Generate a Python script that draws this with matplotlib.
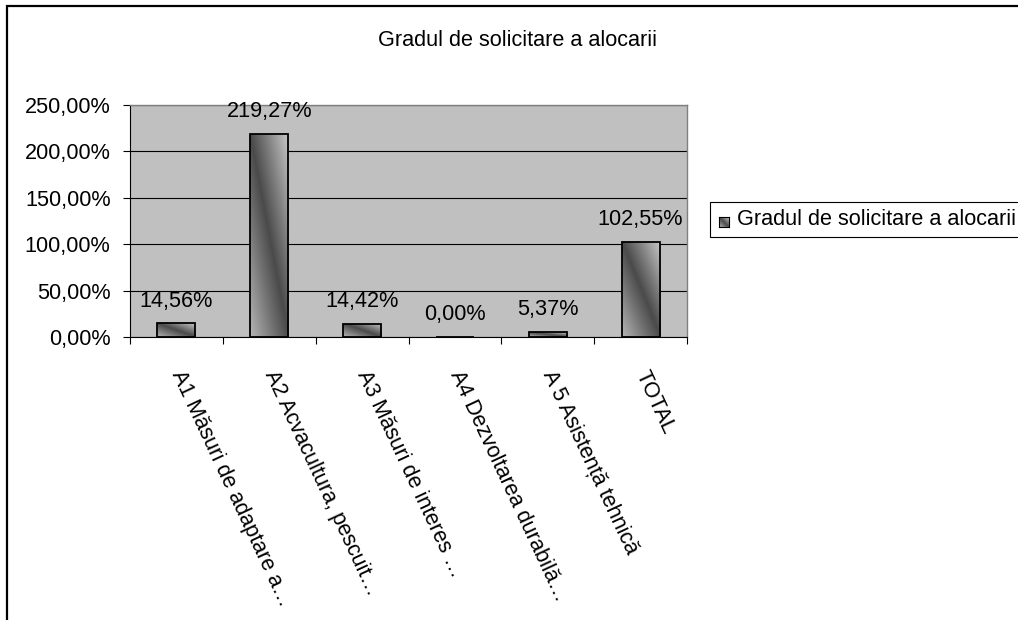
import numpy as np
import matplotlib
matplotlib.use("Agg")
import matplotlib.pyplot as plt
from matplotlib.patches import Rectangle
from matplotlib.colors import LinearSegmentedColormap
from matplotlib.ticker import FuncFormatter, MultipleLocator

categories = [
    "A1 Măsuri de adaptare a…",
    "A2 Acvacultura, pescuit…",
    "A3 Măsuri de interes …",
    "A4 Dezvoltarea durabilă…",
    "A 5 Asistență tehnică",
    "TOTAL",
]
values = [14.56, 219.27, 14.42, 0.00, 5.37, 102.55]
series_name = "Gradul de solicitare a alocarii"
chart_title = "Gradul de solicitare a alocarii"

W, H, DPI = 1018, 620, 100
FS = 15.6
plt.rcParams["font.family"] = ["Liberation Sans", "DejaVu Sans"]

# dark band along the diagonal, lighter toward the two opposite corners
bar_cmap = LinearSegmentedColormap.from_list(
    "bar", [(0.0, "#b4b4b4"), (0.5, "#4a4a4a"), (1.0, "#c8c8c8")])


def diag_gradient(n=64):
    u = np.linspace(0, 1, n)[None, :]
    v = np.linspace(0, 1, n)[:, None]
    return np.clip((u - v) * 0.5 + 0.5, 0, 1)


def pct(v, _pos=None):
    return f"{v:.2f}".replace(".", ",") + "%"


fig = plt.figure(figsize=(W / DPI, H / DPI), dpi=DPI)
fig.patch.set_facecolor("white")

# outer chart border
fig.add_artist(Rectangle((7 / W, -0.1), 1.2, 1 - 6 / H + 0.1, transform=fig.transFigure,
                         fill=False, edgecolor="black", linewidth=1.6, zorder=0))

ax = fig.add_axes([130 / W, 1 - 337 / H, 557 / W, 232 / H])
ax.set_facecolor("#c0c0c0")
ax.set_axisbelow(True)
ax.yaxis.set_major_locator(MultipleLocator(50))
ax.yaxis.set_major_formatter(FuncFormatter(pct))
ax.grid(axis="y", color="black", linewidth=0.8)
ax.tick_params(axis="y", direction="out", length=5, width=0.8, pad=9, labelsize=FS)

# category ticks sit on the boundaries between bars
x = np.arange(len(categories))
ax.set_xticks(np.arange(len(categories) + 1) - 0.5)
ax.set_xticklabels([])
ax.tick_params(axis="x", direction="out", length=5, width=0.8)

for side in ("top", "right"):
    ax.spines[side].set_color("#808080")
    ax.spines[side].set_linewidth(1.0)
for side in ("left", "bottom"):
    ax.spines[side].set_color("black")
    ax.spines[side].set_linewidth(0.8)

bar_w = 0.41
grad = diag_gradient()
bars = ax.bar(x, values, width=bar_w, facecolor="none", edgecolor="black",
              linewidth=1.3, zorder=3)
for rect, val in zip(bars, values):
    if val > 0:
        img = ax.imshow(grad, cmap=bar_cmap, vmin=0, vmax=1, aspect="auto",
                        extent=(rect.get_x(), rect.get_x() + rect.get_width(), 0, val),
                        zorder=2, interpolation="bilinear")
        img.set_clip_path(rect)
    ax.annotate(pct(val), (rect.get_x() + rect.get_width() / 2, val),
                xytext=(0, 12), textcoords="offset points",
                ha="center", va="baseline", fontsize=FS)
ax.set_xlim(-0.5, len(categories) - 0.5)
ax.set_ylim(0, 250)

for xi, lab in zip(x, categories):
    ax.annotate(lab, (xi, 0), xytext=(0, -25), textcoords="offset points",
                xycoords=("data", "axes fraction"), rotation=-65,
                rotation_mode="anchor", ha="left", va="center", fontsize=FS)

fig.text(518 / W, 1 - 46 / H, chart_title, ha="center", va="baseline", fontsize=FS)

# legend box, running off the right edge of the chart
fig.add_artist(Rectangle((710 / W, 1 - 237 / H), 400 / W, 35 / H,
                         transform=fig.transFigure, facecolor="white",
                         edgecolor="black", linewidth=0.8, zorder=0))
key_ax = fig.add_axes([719 / W, 1 - 227 / H, 10 / W, 10 / H])
key_ax.set_zorder(5)
key_ax.imshow(grad, cmap=bar_cmap, vmin=0, vmax=1, aspect="auto", interpolation="bilinear")
key_ax.set_xticks([])
key_ax.set_yticks([])
for sp in key_ax.spines.values():
    sp.set_linewidth(0.8)
fig.text(737 / W, 1 - 219.5 / H, series_name, ha="left", va="center", fontsize=FS)

fig.savefig("out.png", dpi=DPI)
